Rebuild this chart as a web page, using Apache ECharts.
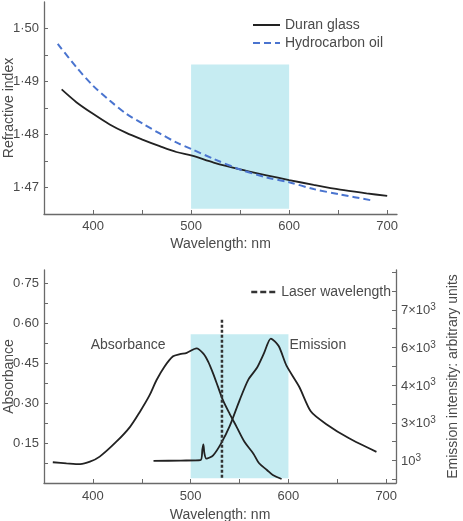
<!DOCTYPE html>
<html>
<head>
<meta charset="utf-8">
<script src="https://cdn.jsdelivr.net/npm/echarts@6/dist/echarts.min.js"></script>
<style>
  html, body { margin: 0; padding: 0; background: #fff; }
  #chart { width: 463px; height: 521px; }
</style>
</head>
<body>
<div id="chart"></div>
<script>
// top panel: refractive index vs wavelength
const duranWl = [368, 383, 400, 417, 434, 451, 468, 485, 501, 523, 550, 577, 600, 625, 652, 679, 700];
const duranN = [1.4885, 1.4861, 1.4839, 1.4819, 1.4803, 1.4790, 1.4778, 1.4767, 1.4760, 1.4747, 1.4734, 1.4723, 1.4714, 1.4705, 1.4696, 1.4689, 1.4684];
const oilWl = [364, 383, 400, 417, 434, 451, 468, 485, 501, 523, 550, 577, 600, 625, 652, 686];
const oilN = [1.4971, 1.4927, 1.4892, 1.4864, 1.4839, 1.4820, 1.4802, 1.4785, 1.4772, 1.4754, 1.4734, 1.4719, 1.4710, 1.4697, 1.4687, 1.4675];

// bottom panel: absorbance (left axis) and emission (right axis, tick index units)
const absWl = [359, 373, 387, 397, 407, 424, 438, 448, 458, 465, 473, 482, 489, 496, 506, 513, 518, 523, 528, 533, 540, 547, 555, 564, 570, 578, 584, 593];
const absVal = [0.078, 0.074, 0.071, 0.080, 0.099, 0.155, 0.211, 0.267, 0.330, 0.386, 0.436, 0.476, 0.484, 0.489, 0.506, 0.486, 0.455, 0.411, 0.361, 0.311, 0.259, 0.211, 0.155, 0.111, 0.074, 0.049, 0.030, 0.015];
const emWl = [462, 490, 510, 512, 513, 514, 516, 523, 531, 540, 550, 559, 568, 575, 582, 590, 598, 611, 623, 638, 662, 690];
const emVal = [0.99, 1.00, 1.01, 1.30, 1.43, 1.20, 1.05, 1.14, 1.45, 1.92, 2.60, 3.15, 3.47, 3.85, 4.24, 4.04, 3.52, 2.96, 2.30, 1.98, 1.59, 1.23];
const laserWl = [532, 532];
const laserVal = [0.02, 0.62];

// shaded band and axis ticks
const bandWl = [500, 600];
const topBand = [1.466, 1.4932];
const bottomBand = [0.018, 0.559];
const xTicks = [400, 450, 500, 550, 600, 650, 700];
const xLabels = [400, 500, 600, 700];
const nTicks = [1.47, 1.475, 1.48, 1.485, 1.49, 1.495, 1.50];
const nLabels = [1.47, 1.48, 1.49, 1.50];
const absTicks = [0.075, 0.15, 0.225, 0.30, 0.375, 0.45, 0.525, 0.60, 0.675, 0.75];
const absLabels = [0.15, 0.30, 0.45, 0.60, 0.75];
const emTicks = [0.5, 1, 1.5, 2, 2.5, 3, 3.5, 4, 4.5, 5, 5.5, 6];
const emLabelPos = [1, 2, 3, 4, 5];
const emLabelMant = ['', '3×', '4×', '6×', '7×'];

const pairs = (xs, ys) => xs.map((x, i) => [x, ys[i]]);
const dotNum = v => v.toFixed(2).replace('.', '·');

const textColor = '#4a4a4a';
const axisColor = '#6a6a6a';
const lineColor = '#222';
const bandColor = '#c6ecf2';

const baseAxis = {
    axisLine: { show: true, lineStyle: { color: axisColor, width: 1.3 } },
    axisTick: { show: true, inside: true, length: 4, lineStyle: { color: axisColor } },
    splitLine: { show: false },
    nameTextStyle: { color: textColor, fontSize: 14 },
    nameLocation: 'middle',
    nameMoveOverlap: false
};

const xAxisFor = (gridIndex, nameGap, margin) => Object.assign({}, baseAxis, {
    type: 'value', gridIndex: gridIndex, min: 350, max: 710,
    name: 'Wavelength: nm', nameGap: nameGap,
    axisTick: Object.assign({}, baseAxis.axisTick, { customValues: xTicks }),
    axisLabel: { customValues: xLabels, color: textColor, fontSize: 13, margin: margin }
});

const chart = echarts.init(document.getElementById('chart'));
chart.setOption({
    animation: false,
    textStyle: { fontFamily: 'Liberation Sans, Arial, sans-serif' },
    grid: [
        { left: 44, top: 2, width: 353, height: 212, containLabel: false, outerBoundsMode: 'none' },
        { left: 44, top: 270, width: 352, height: 213, containLabel: false, outerBoundsMode: 'none' }
    ],
    legend: [
        {
            orient: 'vertical', left: 252, top: 18, padding: 0, itemWidth: 27, itemHeight: 14, itemGap: 4,
            itemStyle: { opacity: 0 },
            textStyle: { color: textColor, fontSize: 14 },
            data: ['Duran glass', 'Hydrocarbon oil']
        },
        {
            left: 250, top: 285, padding: 0, itemWidth: 25, itemHeight: 14,
            itemStyle: { opacity: 0 },
            textStyle: { color: textColor, fontSize: 14 },
            data: [{ name: 'Laser wavelength', lineStyle: { type: [6, 3], width: 2.5 } }]
        }
    ],
    xAxis: [xAxisFor(0, 23, 6), xAxisFor(1, 25, 7)],
    yAxis: [
        Object.assign({}, baseAxis, {
            type: 'value', gridIndex: 0, min: 1.465, max: 1.505,
            name: 'Refractive index', nameGap: 28,
            axisTick: Object.assign({}, baseAxis.axisTick, { customValues: nTicks }),
            axisLabel: { customValues: nLabels, color: textColor, fontSize: 13, margin: 5, formatter: dotNum }
        }),
        Object.assign({}, baseAxis, {
            type: 'value', gridIndex: 1, min: 0, max: 0.8,
            name: 'Absorbance', nameGap: 28,
            axisTick: Object.assign({}, baseAxis.axisTick, { customValues: absTicks }),
            axisLabel: { customValues: absLabels, color: textColor, fontSize: 13, margin: 5, formatter: dotNum }
        }),
        Object.assign({}, baseAxis, {
            type: 'value', gridIndex: 1, position: 'right', min: 0.404, max: 6.06,
            name: 'Emission intensity: arbitrary units', nameGap: 50,
            axisTick: Object.assign({}, baseAxis.axisTick, { customValues: emTicks }),
            axisLabel: {
                customValues: emLabelPos, color: textColor, fontSize: 13, margin: 5,
                formatter: v => '{b|' + emLabelMant[Math.round(v) - 1] + '10}{s|3}',
                rich: {
                    b: { fontSize: 13, color: textColor, lineHeight: 15, verticalAlign: 'bottom' },
                    s: { fontSize: 10, color: textColor, lineHeight: 15, verticalAlign: 'top' }
                }
            }
        })
    ],
    series: [
        {
            name: 'Duran glass', type: 'line', xAxisIndex: 0, yAxisIndex: 0,
            data: pairs(duranWl, duranN), smooth: 0.3, symbol: 'none',
            lineStyle: { color: lineColor, width: 1.8 }, itemStyle: { color: lineColor },
            markArea: {
                silent: true, itemStyle: { color: bandColor },
                data: [[{ coord: [bandWl[0], topBand[0]] }, { coord: [bandWl[1], topBand[1]] }]]
            }
        },
        {
            name: 'Hydrocarbon oil', type: 'line', xAxisIndex: 0, yAxisIndex: 0,
            data: pairs(oilWl, oilN), smooth: 0.3, symbol: 'none',
            lineStyle: { color: '#4a74cf', width: 2, type: [7, 4] }, itemStyle: { color: '#4a74cf' }
        },
        {
            name: 'Absorbance', type: 'line', xAxisIndex: 1, yAxisIndex: 1,
            data: pairs(absWl, absVal), smooth: 0.3, symbol: 'none',
            lineStyle: { color: lineColor, width: 1.8 }, itemStyle: { color: lineColor },
            markArea: {
                silent: true, itemStyle: { color: bandColor },
                data: [[{ coord: [bandWl[0], bottomBand[0]] }, { coord: [bandWl[1], bottomBand[1]] }]]
            },
            markPoint: {
                silent: true, symbol: 'circle', symbolSize: 0,
                label: { show: true, position: 'inside', color: textColor, fontSize: 14, formatter: 'Absorbance' },
                data: [{ coord: [436, 0.5175] }]
            }
        },
        {
            name: 'Emission', type: 'line', xAxisIndex: 1, yAxisIndex: 2,
            data: pairs(emWl, emVal), smooth: 0.25, symbol: 'none',
            lineStyle: { color: lineColor, width: 1.8 }, itemStyle: { color: lineColor },
            markPoint: {
                silent: true, symbol: 'circle', symbolSize: 0,
                label: { show: true, position: 'inside', color: textColor, fontSize: 14, formatter: 'Emission' },
                data: [{ coord: [630, 4.07] }]
            }
        },
        {
            name: 'Laser wavelength', type: 'line', xAxisIndex: 1, yAxisIndex: 1,
            data: pairs(laserWl, laserVal), symbol: 'none',
            lineStyle: { color: '#333', width: 2.5, type: [3, 2] }, itemStyle: { color: '#333' }
        }
    ]
});
</script>
</body>
</html>
